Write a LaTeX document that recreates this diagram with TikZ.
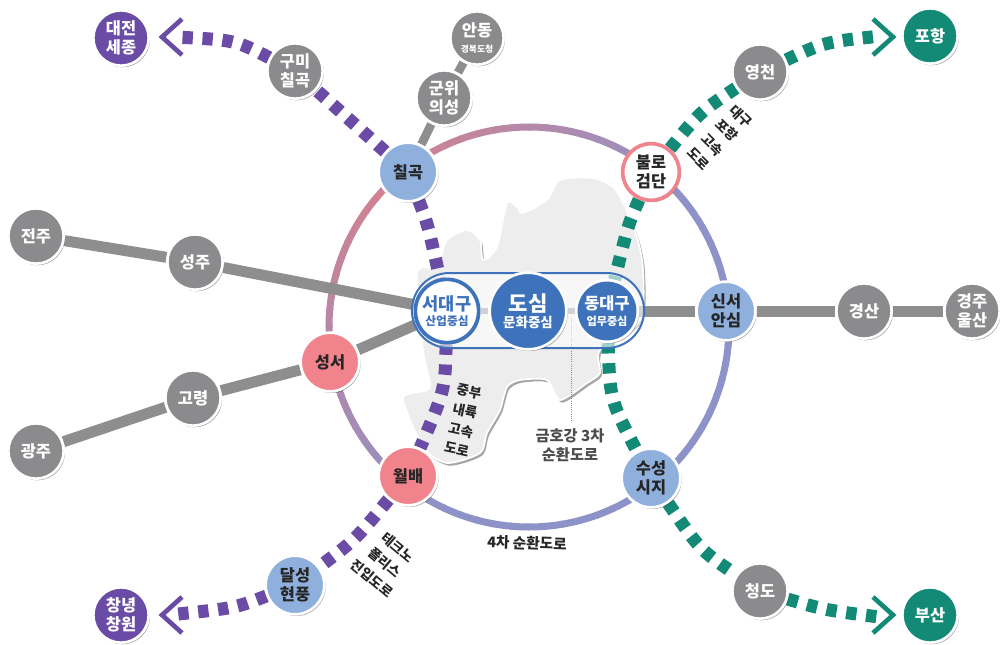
\documentclass[tikz,border=0pt]{standalone}
\usepackage{fontspec}
\setmainfont{Noto Sans CJK KR}
\usetikzlibrary{positioning}
\usetikzlibrary{shapes.misc, shadows, backgrounds}
\definecolor{stopgrey}{HTML}{8B8A8C}
\definecolor{linegrey}{HTML}{8E8E8E}
\definecolor{stopblue}{HTML}{8FB0DC}
\definecolor{stoppink}{HTML}{F0838B}
\definecolor{cityblue}{HTML}{3E73BC}
\definecolor{roadpurple}{HTML}{6A4BA6}
\definecolor{roadteal}{HTML}{138A76}
\definecolor{ringpink}{HTML}{D5808F}
\definecolor{ringblue}{HTML}{8D93C8}
\tikzset{
  stop/.style={circle,draw=white,line width=0.8mm,inner sep=0pt,align=center,minimum size=16.6mm,
    font=\bfseries\fontsize{14}{16}\selectfont,
    drop shadow={shadow xshift=0.4mm,shadow yshift=-0.5mm,opacity=0.35,fill=black}},
  greystop/.style={stop,fill=stopgrey,text=white},
  bluestop/.style={stop,fill=stopblue,text=black!85,minimum size=17.6mm},
  pinkstop/.style={stop,fill=stoppink,text=black!85,minimum size=17.6mm},
  purplestop/.style={stop,fill=roadpurple,text=white},
  tealstop/.style={stop,fill=roadteal,text=white},
  citystop/.style={stop,fill=cityblue,text=white},
  greyroad/.style={draw=linegrey,line width=3.3mm},
  purpleroad/.style={draw=roadpurple,line width=3.9mm,dash pattern=on 3.1mm off 2.9mm},
  tealroad/.style={draw=roadteal,line width=3.9mm,dash pattern=on 3.1mm off 2.9mm},
  chevron/.style={line width=1.4mm,miter limit=4},
  roadlabel/.style={align=center,text=black!85,font=\bfseries\fontsize{11.5}{17}\selectfont}
}
\begin{document}
\begin{tikzpicture}[x=0.3mm,y=-0.3mm]
\useasboundingbox (0,0) rectangle (1000,645);
\coordinate (ringc) at (529,327);
\coordinate (tipdaejeon) at (162,37);
\coordinate (enddaejeon) at (175,37);
\coordinate (tipchangwon) at (162,615);
\coordinate (endchangwon) at (178,614);
\coordinate (tippohang) at (893,37);
\coordinate (endpohang) at (881,36);
\coordinate (tipbusan) at (893,615);
\coordinate (endbusan) at (879,617);
\coordinate (dottop) at (571,318);
\coordinate (dotend) at (571,421);

\node[purplestop] (daejeon) at (121,38) {대전\\세종};
\node[greystop] (gumi) at (295,71) {구미\\칠곡};
\node[greystop,minimum size=16mm] (andong) at (477,38) {안동\\[-3pt]{\fontsize{7.5}{9}\selectfont 경북도청}};
\node[greystop] (gunwi) at (444,98) {군위\\의성};
\node[bluestop] (chilgok) at (408,172) {칠곡};
\node[stop,fill=white,draw=stoppink,line width=1.1mm,text=black!85,minimum size=17mm] (bullo) at (651,172) {불로\\검단};
\node[greystop] (yeongcheon) at (760,72) {영천};
\node[tealstop] (pohang) at (930,36) {포항};
\node[greystop] (jeonju) at (36,236) {전주};
\node[greystop] (seongju) at (195,262) {성주};
\node[pinkstop] (seongseo) at (330,362) {성서};
\node[greystop] (goryeong) at (193,398) {고령};
\node[greystop] (gwangju) at (36,451) {광주};
\node[pinkstop] (wolbae) at (408,476) {월배};
\node[bluestop] (hyeonpung) at (295,585) {달성\\현풍};
\node[purplestop] (changwon) at (121,615) {창녕\\창원};
\node[bluestop] (susung) at (651,478) {수성\\시지};
\node[greystop] (cheongdo) at (760,591) {청도};
\node[tealstop] (busan) at (930,615) {부산};
\node[bluestop] (anshim) at (726,311) {신서\\안심};
\node[greystop] (gyeongsan) at (864,311) {경산};
\node[greystop] (ulsan) at (972,311) {경주\\울산};

\node[stop,fill=white,draw=cityblue,line width=1.1mm,text=cityblue,minimum size=19mm] (seodaegu) at (447,311) {{\fontsize{15}{16}\selectfont 서대구}\\[-3pt]{\fontsize{10}{11}\selectfont 산업중심}};
\node[citystop,minimum size=23mm] (dosim) at (528,311) {{\fontsize{18}{19}\selectfont 도심}\\[-2pt]{\fontsize{11.5}{12}\selectfont 문화중심}};
\node[citystop,minimum size=18.5mm] (dongdaegu) at (607,311) {{\fontsize{14}{15}\selectfont 동대구}\\[-3pt]{\fontsize{9.5}{11}\selectfont 업무중심}};

\begin{pgfonlayer}{background}
\draw[fill=black!7,draw=white,line width=0.5mm,drop shadow={shadow xshift=0.6mm,shadow yshift=-0.8mm,opacity=0.35,fill=black}] plot[smooth cycle,tension=0.45] coordinates {(447,240) (467,230) (480,240) (483,260) (497,247) (507,203) (517,207) (523,213) (547,200) (560,180) (593,178) (613,187) (623,203) (637,237) (643,270) (640,320) (600,350) (600,373) (587,383) (560,400) (547,380) (520,380) (507,387) (500,410) (487,433) (480,453) (447,463) (423,447) (403,400) (413,393) (430,387) (423,350) (417,273) (437,267)};
\foreach \a in {0,5,...,355} {
  \pgfmathsetmacro\mixval{\a<110 ? 100 : (\a<225 ? (225-\a)/115*100 : (\a<320 ? (\a-225)/95*100 : 100))}
  \draw[ringblue!\mixval!ringpink,line width=2.1mm] ([shift={(\a:200)}]ringc) arc[start angle=\a,delta angle=5.5,radius=200];
}
\draw[greyroad] (jeonju) -- (seongju);
\draw[greyroad] (seongju) -- (seodaegu);
\draw[greyroad] (gwangju) -- (goryeong);
\draw[greyroad] (goryeong) -- (seongseo);
\draw[greyroad] (seongseo) -- (seodaegu);
\draw[greyroad,line width=2.6mm] (chilgok) -- (gunwi);
\draw[greyroad,line width=2.6mm] (gunwi) -- (andong);
\draw[greyroad] (dongdaegu) -- (anshim);
\draw[greyroad] (anshim) -- (gyeongsan);
\draw[greyroad] (gyeongsan) -- (ulsan);
\draw[greyroad,line width=1.8mm] (seodaegu) -- (dosim);
\draw[greyroad,line width=1.8mm] (dosim) -- (dongdaegu);
\draw[purpleroad] (chilgok) .. controls (428,225) .. (seodaegu);
\draw[purpleroad] (seodaegu) .. controls (445,390) .. (wolbae);
\draw[purpleroad] (chilgok) -- (gumi);
\draw[purpleroad] (gumi) .. controls (235,40) .. (enddaejeon);
\draw[purpleroad] (wolbae) .. controls (355,540) .. (hyeonpung);
\draw[purpleroad] (hyeonpung) .. controls (235,608) .. (endchangwon);
\draw[tealroad] (bullo) .. controls (628,225) .. (dongdaegu);
\draw[tealroad] (dongdaegu) .. controls (610,400) .. (susung);
\draw[tealroad] (bullo) .. controls (700,112) .. (yeongcheon);
\draw[tealroad] (yeongcheon) .. controls (825,42) .. (endpohang);
\draw[tealroad] (susung) .. controls (700,550) .. (cheongdo);
\draw[tealroad] (cheongdo) .. controls (825,610) .. (endbusan);
\draw[black!45,densely dotted,line width=0.3mm] (dottop) -- (dotend);
\node[rounded rectangle,draw=cityblue,line width=0.6mm,fill=white,fill opacity=0.6,minimum width=72mm,minimum height=22.5mm] (citybar) at (528,310.5) {};
\end{pgfonlayer}

\draw[chevron,roadpurple] (tipdaejeon) ++(20,-18) -- (tipdaejeon) -- ++(20,18);
\draw[chevron,roadpurple] (tipchangwon) ++(20,-18) -- (tipchangwon) -- ++(20,18);
\draw[chevron,roadteal] (tippohang) ++(-20,-18) -- (tippohang) -- ++(-20,18);
\draw[chevron,roadteal] (tipbusan) ++(-20,-18) -- (tipbusan) -- ++(-20,18);

\node[roadlabel,rotate=-45] (daegupohang) at (720,137) {대구\\포항\\고속\\도로};
\node[roadlabel,rotate=-12] (jungbu) at (463,420) {중부\\내륙\\고속\\도로};
\node[roadlabel,rotate=-40] (techno) at (385,563) {테크노\\폴리스\\진입도로};
\node[roadlabel,text=black!70,font=\bfseries\fontsize{13}{16}\selectfont] (geumho) at (570,445) {금호강 3차\\순환도로};
\node[roadlabel,font=\bfseries\fontsize{12.5}{14}\selectfont,rotate=-2] (fourth) at (527,543) {4차 순환도로};
\end{tikzpicture}
\end{document}
